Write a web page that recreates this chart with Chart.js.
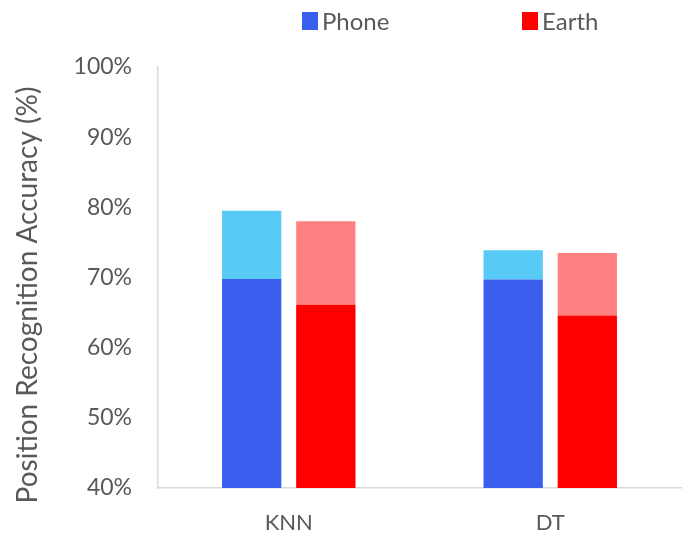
<!DOCTYPE html>
<html>
<head>
<meta charset="utf-8">
<title>Position Recognition Accuracy</title>
<script src="https://cdn.jsdelivr.net/npm/chart.js@4"></script>
<style>
  body { margin: 0; background: #fff; }
  #wrap { position: relative; width: 699px; height: 536px; }
  #accChart { display: block; }
  #legend { position: absolute; top: 0; left: 0; width: 699px; height: 40px;
            font-family: Lato, sans-serif; font-size: 24px; color: #595959; }
  .item { position: absolute; top: 6px; display: flex; align-items: center; }
  .box { width: 16px; height: 18px; margin-right: 4px; }
</style>
</head>
<body>
<div id="wrap">
  <canvas id="accChart" width="699" height="536"></canvas>
  <div id="legend"></div>
</div>
<script>
const categories = ['KNN', 'DT'];
// accuracy in %, lower part and total height of each bar
const phoneBase = [69.8, 69.7];
const phoneTotal = [79.5, 73.9];
const earthBase = [66.1, 64.6];
const earthTotal = [78.0, 73.5];
const yTicks = [40, 50, 60, 70, 80, 90, 100];
const yTitle = 'Position Recognition Accuracy (%)';

const gray = '#595959';
const font = 'Lato';

function diff(total, base) {
  return total.map((t, i) => +(t - base[i]).toFixed(1));
}

// y title sits a bit lower than the axis middle, so draw it by hand
const yTitlePlugin = {
  id: 'yTitle',
  afterDraw(chart) {
    const c = chart.ctx;
    c.save();
    c.translate(28, 295);
    c.rotate(-Math.PI / 2);
    c.font = '28px ' + font;
    c.fillStyle = gray;
    c.textAlign = 'center';
    c.textBaseline = 'middle';
    c.fillText(yTitle, 0, 0);
    c.restore();
  }
};

const ctx = document.getElementById('accChart').getContext('2d');
const accChart = new Chart(ctx, {
  type: 'bar',
  data: {
    labels: categories,
    datasets: [
      { label: 'Phone', data: phoneBase, backgroundColor: '#3a5eee', stack: 'phone' },
      { label: 'Phone+', data: diff(phoneTotal, phoneBase), backgroundColor: '#57caf5', stack: 'phone' },
      { label: 'Earth', data: earthBase, backgroundColor: '#ff0000', stack: 'earth' },
      { label: 'Earth+', data: diff(earthTotal, earthBase), backgroundColor: '#ff8080', stack: 'earth' }
    ]
  },
  options: {
    responsive: false,
    animation: false,
    categoryPercentage: 0.567,
    barPercentage: 0.8,
    layout: { padding: { top: 67, right: 18, bottom: 0, left: 6 } },
    plugins: {
      legend: { display: false },
      tooltip: { enabled: false }
    },
    scales: {
      x: {
        stacked: true,
        grid: { display: false, drawTicks: false },
        border: { color: '#d9d9d9', width: 1.5 },
        ticks: { color: gray, font: { family: font, size: 22 }, padding: 22 },
        afterFit: (scale) => { scale.height = 48; }
      },
      y: {
        stacked: true,
        min: yTicks[0],
        max: yTicks[yTicks.length - 1],
        afterBuildTicks: (scale) => { scale.ticks = yTicks.map(v => ({ value: v })); },
        afterFit: (scale) => { scale.width = 152; },
        grid: { display: false, drawTicks: false },
        border: { color: '#d9d9d9', width: 1.5 },
        ticks: { color: gray, font: { family: font, size: 23 }, padding: 26,
                 callback: v => v + '%' }
      }
    }
  },
  plugins: [yTitlePlugin]
});

// legend shows only the two base series
const legend = document.getElementById('legend');
[['Phone', '#3a5eee', 302], ['Earth', '#ff0000', 522]].forEach(([name, color, x]) => {
  const item = document.createElement('div');
  item.className = 'item';
  item.style.left = x + 'px';
  item.innerHTML = '<span class="box" style="background:' + color + '"></span><span>' + name + '</span>';
  legend.appendChild(item);
});
</script>
</body>
</html>
